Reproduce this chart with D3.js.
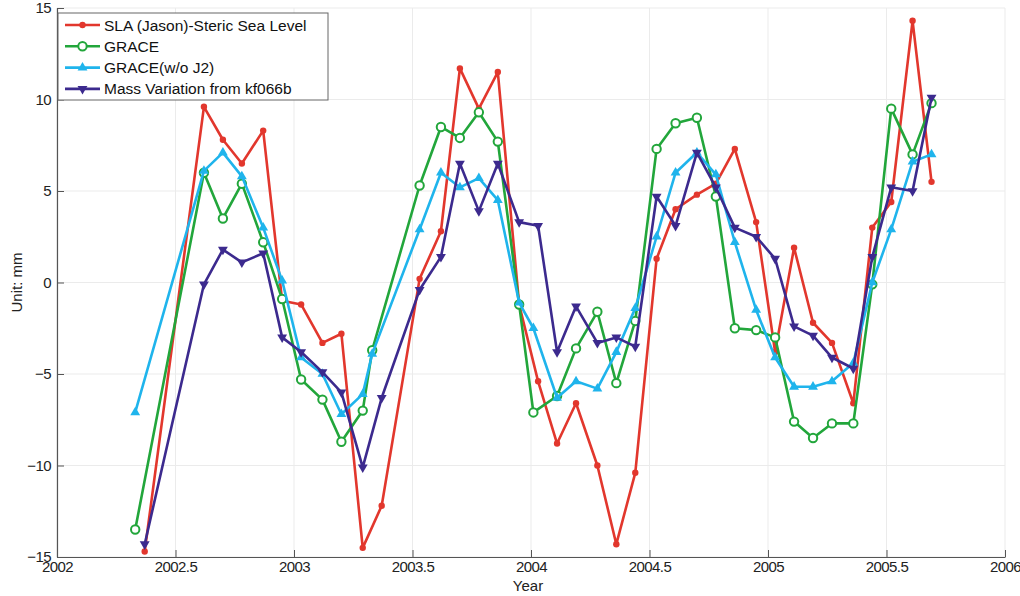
<!DOCTYPE html>
<html>
<head>
<meta charset="utf-8">
<script src="https://cdn.jsdelivr.net/npm/d3@7"></script>
<style>
  body { margin: 0; background: #fff; overflow: hidden; }
  svg { display: block; font-family: "Liberation Sans", Arial, sans-serif; }
</style>
</head>
<body>
<div id="chart"></div>
<script>
const width = 1020;
const height = 596;
const margin = { top: 8, right: 15, bottom: 39, left: 57 };

const xTicks = [2002, 2002.5, 2003, 2003.5, 2004, 2004.5, 2005, 2005.5, 2006];
const yTicks = [-15, -10, -5, 0, 5, 10, 15];

// time stamps (decimal year)
const jasonYears = [2002.37, 2002.62, 2002.70, 2002.78, 2002.87, 2002.95, 2003.03, 2003.12, 2003.20, 2003.29,
  2003.37, 2003.53, 2003.62, 2003.70, 2003.78, 2003.86, 2003.95, 2004.03, 2004.11, 2004.19,
  2004.28, 2004.36, 2004.44, 2004.53, 2004.61, 2004.70, 2004.78, 2004.86, 2004.95, 2005.03,
  2005.11, 2005.19, 2005.27, 2005.36, 2005.44, 2005.52, 2005.61, 2005.69];
const graceYears = [2002.33, 2002.62, 2002.70, 2002.78, 2002.87, 2002.95, 2003.03, 2003.12, 2003.20, 2003.29,
  2003.33, 2003.53, 2003.62, 2003.70, 2003.78, 2003.86, 2003.95, 2004.01, 2004.11, 2004.19,
  2004.28, 2004.36, 2004.44, 2004.53, 2004.61, 2004.70, 2004.78, 2004.86, 2004.95, 2005.03,
  2005.11, 2005.19, 2005.27, 2005.36, 2005.44, 2005.52, 2005.61, 2005.69];

const slaValues = [-14.7, 9.6, 7.8, 6.5, 8.3, -1.0, -1.2, -3.3, -2.8, -14.5,
  -12.2, 0.2, 2.8, 11.7, 9.5, 11.5, -1.2, -5.4, -8.8, -6.6,
  -10.0, -14.3, -10.4, 1.3, 4.0, 4.8, 5.4, 7.3, 3.3, -3.8,
  1.9, -2.2, -3.3, -6.6, 3.0, 4.4, 14.3, 5.5];
const graceValues = [-13.5, 6.0, 3.5, 5.4, 2.2, -0.9, -5.3, -6.4, -8.7, -7.0,
  -3.7, 5.3, 8.5, 7.9, 9.3, 7.7, -1.2, -7.1, -6.2, -3.6,
  -1.6, -5.5, -2.1, 7.3, 8.7, 9.0, 4.7, -2.5, -2.6, -3.0,
  -7.6, -8.5, -7.7, -7.7, -0.1, 9.5, 7.0, 9.8];
const graceNoJ2Values = [-7.1, 6.1, 7.1, 5.8, 3.0, 0.1, -4.1, -5.0, -7.2, -6.1,
  -3.9, 2.9, 6.0, 5.2, 5.7, 4.5, -1.1, -2.5, -6.3, -5.4,
  -5.8, -3.8, -1.4, 2.5, 6.0, 7.1, 5.9, 2.2, -1.5, -4.1,
  -5.7, -5.7, -5.4, -4.4, 0.0, 2.9, 6.6, 7.0];
const massValues = [-14.3, -0.1, 1.8, 1.1, 1.6, -3.0, -3.8, -4.9, -6.0, -10.1,
  -6.3, -0.4, 1.4, 6.5, 3.9, 6.5, 3.3, 3.1, -3.8, -1.3,
  -3.3, -3.0, -3.5, 4.7, 3.1, 7.1, 5.2, 3.0, 2.5, 1.3,
  -2.4, -2.9, -4.1, -4.7, 1.4, 5.2, 5.0, 10.1];

const seriesNames = ["SLA (Jason)-Steric Sea Level", "GRACE", "GRACE(w/o J2)", "Mass Variation from kf066b"];
const seriesColors = ["#e2372d", "#22a63b", "#1fb4ec", "#3c2a8e"];
const seriesMarkers = ["dot", "circle", "up", "down"];

const series = [
  { years: jasonYears, values: slaValues },
  { years: graceYears, values: graceValues },
  { years: graceYears, values: graceNoJ2Values },
  { years: jasonYears, values: massValues }
].map((s, i) => ({
  name: seriesNames[i],
  color: seriesColors[i],
  marker: seriesMarkers[i],
  points: s.years.map((y, j) => ({ x: y, y: s.values[j] }))
}));

const innerWidth = width - margin.left - margin.right;
const innerHeight = height - margin.top - margin.bottom;

const svg = d3.select("#chart").append("svg")
  .attr("width", width)
  .attr("height", height);

const g = svg.append("g")
  .attr("transform", `translate(${margin.left},${margin.top})`);

const xScale = d3.scaleLinear().domain([2002, 2006]).range([0, innerWidth]);
const yScale = d3.scaleLinear().domain([-15, 15]).range([innerHeight, 0]);

// grid
g.append("g").selectAll("line").data(xTicks).join("line")
  .attr("x1", d => xScale(d)).attr("x2", d => xScale(d))
  .attr("y1", 0).attr("y2", innerHeight)
  .attr("stroke", "#ebebeb").attr("stroke-width", 1);
g.append("g").selectAll("line").data(yTicks).join("line")
  .attr("x1", 0).attr("x2", innerWidth)
  .attr("y1", d => yScale(d)).attr("y2", d => yScale(d))
  .attr("stroke", "#ebebeb").attr("stroke-width", 1);

// axes
const xAxis = g.append("g")
  .attr("transform", `translate(0,${innerHeight})`)
  .call(d3.axisBottom(xScale).tickValues(xTicks).tickFormat(d => d).tickSizeInner(-7).tickSizeOuter(0).tickPadding(4));
const yAxis = g.append("g")
  .call(d3.axisLeft(yScale).tickValues(yTicks).tickSizeInner(-7).tickSizeOuter(0).tickPadding(6));

[xAxis, yAxis].forEach(a => {
  a.select(".domain").attr("stroke", "#555").attr("stroke-width", 1.2);
  a.selectAll(".tick line").attr("stroke", "#555");
  a.selectAll(".tick text").attr("font-size", 15).attr("fill", "#222")
    .attr("letter-spacing", -0.6)
    .attr("font-family", "'Liberation Sans', Arial, sans-serif");
});

svg.append("text")
  .attr("x", margin.left + innerWidth / 2 - 3)
  .attr("y", 591)
  .attr("text-anchor", "middle")
  .attr("font-size", 15)
  .attr("fill", "#222")
  .text("Year");

svg.append("text")
  .attr("transform", `translate(22,${margin.top + innerHeight / 2}) rotate(-90)`)
  .attr("text-anchor", "middle")
  .attr("font-size", 15)
  .attr("fill", "#222")
  .text("Unit: mm");

const line = d3.line()
  .x(d => xScale(d.x))
  .y(d => yScale(d.y));

function drawMarker(sel, marker, color) {
  if (marker === "dot") {
    sel.append("circle").attr("r", 3.2).attr("fill", color);
  } else if (marker === "circle") {
    sel.append("circle").attr("r", 4.2).attr("fill", "#fff")
      .attr("stroke", color).attr("stroke-width", 2);
  } else {
    sel.append("path")
      .attr("d", d3.symbol(d3.symbolTriangle, 42)())
      .attr("transform", marker === "down" ? "rotate(180)" : null)
      .attr("fill", color);
  }
}

const plot = g.append("g");
series.forEach(s => {
  const sg = plot.append("g");
  sg.append("path")
    .datum(s.points)
    .attr("fill", "none")
    .attr("stroke", s.color)
    .attr("stroke-width", 2.6)
    .attr("stroke-linejoin", "round")
    .attr("d", line);
  sg.selectAll("g.pt").data(s.points).join("g")
    .attr("class", "pt")
    .attr("transform", d => `translate(${xScale(d.x)},${yScale(d.y)})`)
    .each(function () { drawMarker(d3.select(this), s.marker, s.color); });
});

// legend
const legend = svg.append("g").attr("transform", "translate(58,13)");
legend.append("rect")
  .attr("width", 270).attr("height", 87)
  .attr("fill", "#fff").attr("stroke", "#666").attr("stroke-width", 1);
series.forEach((s, i) => {
  const row = legend.append("g").attr("transform", `translate(0,${12 + i * 21.3})`);
  row.append("line")
    .attr("x1", 7).attr("x2", 42)
    .attr("stroke", s.color).attr("stroke-width", 2.6);
  drawMarker(row.append("g").attr("transform", "translate(24.5,0)"), s.marker, s.color);
  row.append("text")
    .attr("x", 46).attr("y", 5.5)
    .attr("font-size", 15.5)
    .attr("fill", "#111")
    .text(s.name);
});
</script>
</body>
</html>
